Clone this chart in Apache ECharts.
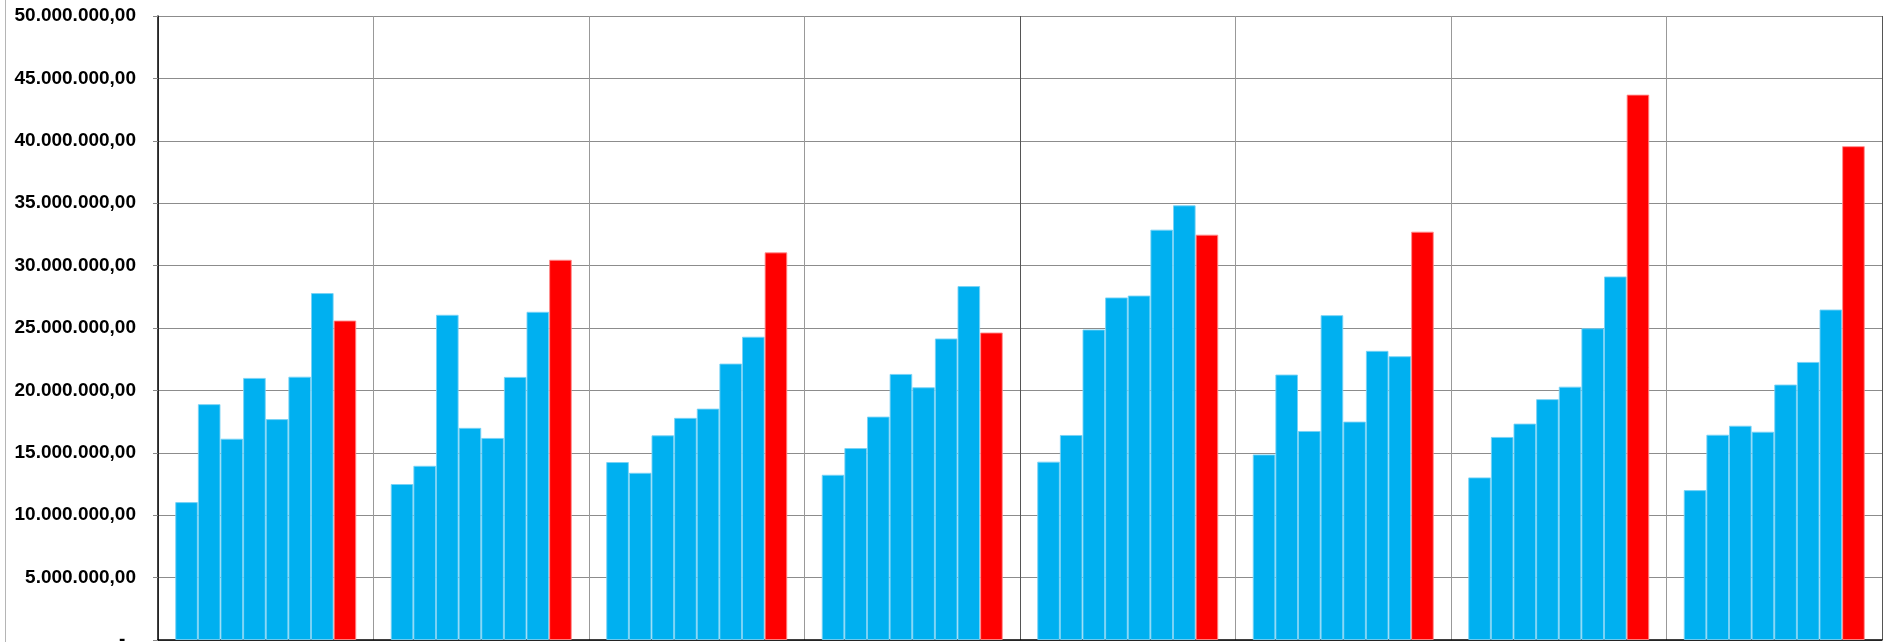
<!DOCTYPE html>
<html>
<head>
<meta charset="utf-8">
<style>
  html, body { margin: 0; padding: 0; background: #ffffff; }
  #chart { width: 1883px; height: 642px; }
</style>
<script src="https://cdn.jsdelivr.net/npm/echarts@6/dist/echarts.min.js"></script>
</head>
<body>
<div id="chart"></div>
<script>
// Categories (groups); no visible labels in the reference
const categories = ['1', '2', '3', '4', '5', '6', '7', '8'];

// Values for bar position 1..8 inside each group
const bar1 = [11050000, 12500000, 14260000, 13240000, 14290000, 14870000, 13030000, 12010000];
const bar2 = [18900000, 13960000, 13400000, 15380000, 16430000, 21270000, 16270000, 16450000];
const bar3 = [16130000, 26060000, 16400000, 17900000, 24880000, 16750000, 17340000, 17170000];
const bar4 = [21000000, 17000000, 17800000, 21320000, 27450000, 26030000, 19300000, 16690000];
const bar5 = [17700000, 16190000, 18540000, 20250000, 27600000, 17500000, 20300000, 20470000];
const bar6 = [21100000, 21080000, 22150000, 24160000, 32880000, 23170000, 24980000, 22280000];
const bar7 = [27800000, 26300000, 24300000, 28360000, 34830000, 22740000, 29130000, 26480000];
const bar8 = [25600000, 30470000, 31060000, 24640000, 32480000, 32720000, 43700000, 39570000];

// Y axis settings
const yMin = 0;
const yMax = 50000000;
const yStep = 5000000;

function fmt(v) {
  if (v === 0) return '-  ';
  const parts = v.toFixed(2).split('.');
  const intPart = parts[0].replace(/\B(?=(\d{3})+(?!\d))/g, '.');
  return intPart + ',' + parts[1];
}

const blue = '#00B0F0';
const red = '#FF0000';
const seriesData = [bar1, bar2, bar3, bar4, bar5, bar6, bar7, bar8];

const series = seriesData.map((d, i) => ({
  type: 'bar',
  name: 'S' + (i + 1),
  data: d,
  barGap: '0%',
  barCategoryGap: '16%',
  itemStyle: {
    color: i === 7 ? red : blue,
    borderColor: i === 7 ? 'rgba(255,140,140,0.9)' : 'rgba(120,210,245,0.9)',
    borderWidth: 1
  },
  emphasis: { disabled: true },
  animation: false
}));

const vColors = ['#999999', '#999999', '#999999', '#999999', '#555555', '#999999', '#999999', '#999999', '#555555'];

const chart = echarts.init(document.getElementById('chart'), null, { renderer: 'canvas' });
chart.setOption({
  backgroundColor: '#ffffff',
  animation: false,
  grid: { left: 158, right: 1, top: 16, bottom: 2, containLabel: false, outerBoundsMode: 'none' },
  xAxis: {
    type: 'category',
    data: categories,
    boundaryGap: true,
    axisLine: { show: true, lineStyle: { color: '#000000', width: 1.5 } },
    axisTick: { show: false },
    axisLabel: { show: false },
    splitLine: { show: true, lineStyle: { color: vColors, width: 1 } }
  },
  yAxis: {
    type: 'value',
    min: yMin,
    max: yMax,
    interval: yStep,
    axisLine: { show: true, lineStyle: { color: '#000000', width: 1.5 } },
    axisTick: { show: true, length: 5, lineStyle: { color: '#888888' } },
    axisLabel: {
      show: true,
      margin: 22,
      formatter: fmt,
      fontFamily: 'Liberation Sans, Arial, sans-serif',
      fontWeight: 'bold',
      fontSize: 19,
      color: '#000000'
    },
    splitLine: { show: true, lineStyle: { color: '#8c8c8c', width: 1 } }
  },
  graphic: [
    {
      type: 'line',
      shape: { x1: 5.5, y1: 0, x2: 5.5, y2: 642 },
      style: { stroke: '#b5b5b5', lineWidth: 1 },
      silent: true
    }
  ],
  series: series
});
</script>
</body>
</html>
